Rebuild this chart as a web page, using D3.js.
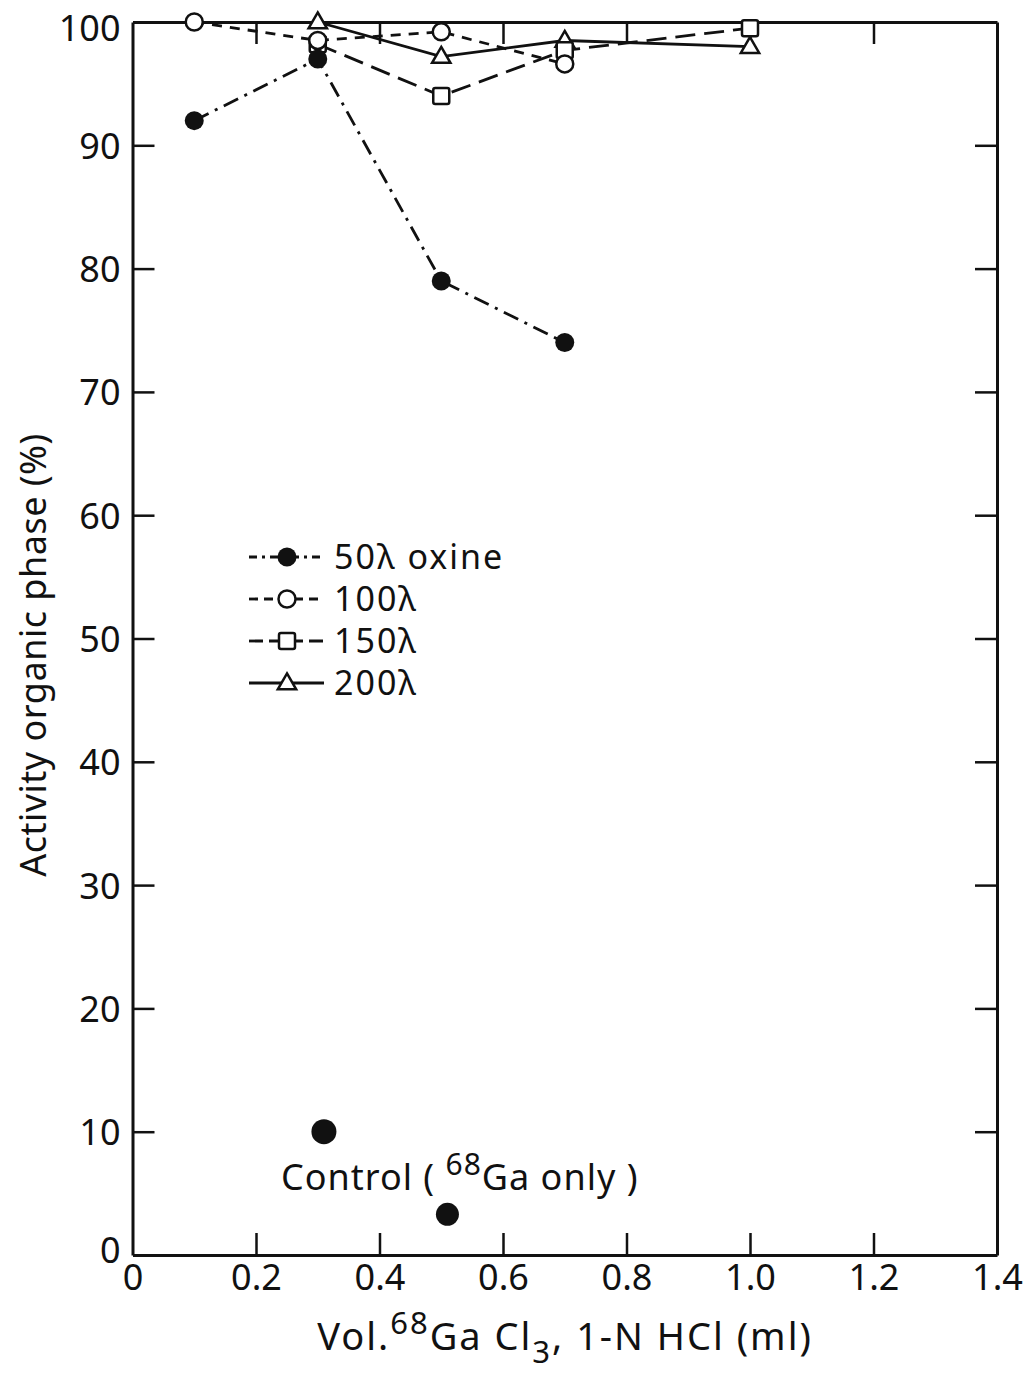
<!DOCTYPE html>
<html>
<head>
<meta charset="utf-8">
<script src="https://cdn.jsdelivr.net/npm/d3@7"></script>
<style>
  body { margin: 0; background: #fff; }
  text { font-family: "Noto Sans", "DejaVu Sans", sans-serif; fill: #111; }
</style>
</head>
<body>
<div id="chart"></div>
<script>
// volumes (ml)
const xVals = [0.1, 0.3, 0.5, 0.7, 1.0];

// series values (% activity in organic phase)
const oxine50 = [[0.1, 92], [0.3, 97], [0.5, 79], [0.7, 74]];
const oxine100 = [[0.1, 100], [0.3, 98.5], [0.5, 99.2], [0.7, 96.6]];
const oxine150 = [[0.3, 98.2], [0.5, 94], [0.7, 97.7], [1.0, 99.5]];
const oxine200 = [[0.3, 100], [0.5, 97.2], [0.7, 98.5], [1.0, 98]];
const control = [[0.31, 10], [0.51, 3.3]];

const seriesNames = ["50λ oxine", "100λ", "150λ", "200λ"];
const xTicks = [0, 0.2, 0.4, 0.6, 0.8, 1.0, 1.2, 1.4];
const xTickLabels = ["0", "0.2", "0.4", "0.6", "0.8", "1.0", "1.2", "1.4"];
const yTicks = [0, 10, 20, 30, 40, 50, 60, 70, 80, 90, 100];

const W = 1027, H = 1376;
const margin = { top: 22, right: 30, bottom: 121, left: 132.5 };

const svg = d3.select("#chart").append("svg")
  .attr("width", W)
  .attr("height", H);
svg.append("rect").attr("width", W).attr("height", H).attr("fill", "#fff");

const x = d3.scaleLinear().domain([0, 1.4]).range([margin.left, W - margin.right]);
const y = d3.scaleLinear().domain([0, 100]).range([H - margin.bottom, margin.top]);

const ink = "#111";
const tickLen = 22;

// frame + inward ticks
const innerX = xTicks.filter(d => d > 0 && d < 1.4);
const innerY = yTicks.filter(d => d > 0 && d < 100);

const gBottom = svg.append("g")
  .attr("transform", "translate(0," + y(0) + ")")
  .call(d3.axisBottom(x).tickValues(xTicks).tickSizeInner(-tickLen).tickSizeOuter(0)
    .tickPadding(6).tickFormat((d, i) => xTickLabels[i]));
gBottom.selectAll(".tick line").filter(d => d === 0 || d === 1.4).remove();

const gTop = svg.append("g")
  .attr("transform", "translate(0," + y(100) + ")")
  .call(d3.axisTop(x).tickValues(innerX).tickSizeInner(-tickLen).tickSizeOuter(0).tickFormat(""));

const gLeft = svg.append("g")
  .attr("transform", "translate(" + x(0) + ",0)")
  .call(d3.axisLeft(y).tickValues(yTicks).tickSizeInner(-tickLen).tickSizeOuter(0).tickPadding(12));
gLeft.selectAll(".tick line").filter(d => d === 0 || d === 100).remove();

const gRight = svg.append("g")
  .attr("transform", "translate(" + x(1.4) + ",0)")
  .call(d3.axisRight(y).tickValues(innerY).tickSizeInner(-tickLen).tickSizeOuter(0).tickFormat(""));

[gBottom, gTop, gLeft, gRight].forEach(g => {
  g.selectAll("path.domain").attr("stroke", ink).attr("stroke-width", 3);
  g.selectAll(".tick line").attr("stroke", ink).attr("stroke-width", 2.5);
  g.selectAll("text").attr("fill", ink).style("font-size", "36px")
    .style("font-family", "'Noto Sans', 'DejaVu Sans', sans-serif");
});
gBottom.selectAll("text").attr("dy", "0.8em");
gLeft.selectAll("text").attr("dy", "0.36em");
// keep the top label inside the page, nudge the bottom one up a little
gLeft.selectAll(".tick").filter(d => d === 100).select("text").attr("dy", "0.5em");
gLeft.selectAll(".tick").filter(d => d === 0).select("text").attr("dy", "0.2em");

// series
const series = [
  { name: seriesNames[0], data: oxine50, dash: "16,7,3,7", marker: "fcircle" },
  { name: seriesNames[1], data: oxine100, dash: "10,8", marker: "ocircle" },
  { name: seriesNames[2], data: oxine150, dash: "20,9", marker: "square" },
  { name: seriesNames[3], data: oxine200, dash: null, marker: "triangle" }
];

const line = d3.line().x(d => x(d[0])).y(d => y(d[1]));

function drawMarker(g, kind, cx, cy, scale) {
  const s = scale || 1;
  if (kind === "fcircle") {
    g.append("circle").attr("cx", cx).attr("cy", cy).attr("r", 9.5 * s).attr("fill", ink);
  } else if (kind === "ocircle") {
    g.append("circle").attr("cx", cx).attr("cy", cy).attr("r", 8.5 * s)
      .attr("fill", "#fff").attr("stroke", ink).attr("stroke-width", 2.5);
  } else if (kind === "square") {
    const h = 8 * s;
    g.append("rect").attr("x", cx - h).attr("y", cy - h).attr("width", 2 * h).attr("height", 2 * h)
      .attr("rx", 2).attr("fill", "#fff").attr("stroke", ink).attr("stroke-width", 2.5);
  } else if (kind === "triangle") {
    const h = 9 * s;
    const sym = d3.symbol().type(d3.symbolTriangle).size(Math.pow(h * 2, 2) * 0.45);
    g.append("path").attr("d", sym()).attr("transform", "translate(" + cx + "," + (cy + 1) + ")")
      .attr("fill", "#fff").attr("stroke", ink).attr("stroke-width", 2.5);
  }
}

const plot = svg.append("g");
series.forEach(s => {
  plot.append("path").datum(s.data)
    .attr("d", line)
    .attr("fill", "none")
    .attr("stroke", ink)
    .attr("stroke-width", 2.8)
    .attr("stroke-dasharray", s.dash);
});
// markers drawn in reverse so triangles/squares sit on top like the original
series.slice().reverse().forEach(s => {
  s.data.forEach(d => drawMarker(plot, s.marker, x(d[0]), y(d[1])));
});

// control points
control.forEach((d, i) => {
  plot.append("circle").attr("cx", x(d[0])).attr("cy", y(d[1]))
    .attr("r", i === 0 ? 12.5 : 11.5).attr("fill", ink);
});

const ctl = svg.append("text")
  .attr("x", 281).attr("y", 1190)
  .style("font-size", "36px")
  .style("letter-spacing", "1px");
ctl.append("tspan").text("Control ( ");
ctl.append("tspan").attr("dy", -15).style("font-size", "30px").text("68");
ctl.append("tspan").attr("dy", 15).text("Ga only )");

// legend
const legend = svg.append("g");
series.forEach((s, i) => {
  const ly = 557 + i * 42;
  legend.append("line")
    .attr("x1", 249).attr("x2", 324).attr("y1", ly).attr("y2", ly)
    .attr("stroke", ink).attr("stroke-width", 2.8)
    .attr("stroke-dasharray", s.dash ? (i === 0 ? "8,5,3,5" : (i === 1 ? "9,6" : "14,6")) : null);
  drawMarker(legend, s.marker, 287, ly);
  legend.append("text")
    .attr("x", 334).attr("y", ly).attr("dy", "0.36em")
    .style("font-size", "34px")
    .style("letter-spacing", "2px")
    .text(s.name);
});

// axis titles
const xt = svg.append("text")
  .attr("x", 565).attr("y", 1350)
  .attr("text-anchor", "middle")
  .style("font-size", "38px")
  .style("letter-spacing", "2px");
xt.append("tspan").text("Vol.");
xt.append("tspan").attr("dy", -16).style("font-size", "31px").text("68");
xt.append("tspan").attr("dy", 16).text("Ga Cl");
xt.append("tspan").attr("dy", 13).style("font-size", "31px").text("3");
xt.append("tspan").attr("dy", -13).text(", 1-N HCl (ml)");

svg.append("text")
  .attr("transform", "translate(46," + 655 + ") rotate(-90)")
  .attr("text-anchor", "middle")
  .style("font-size", "36px")
  .style("letter-spacing", "0.5px")
  .text("Activity organic phase (%)");
</script>
</body>
</html>
